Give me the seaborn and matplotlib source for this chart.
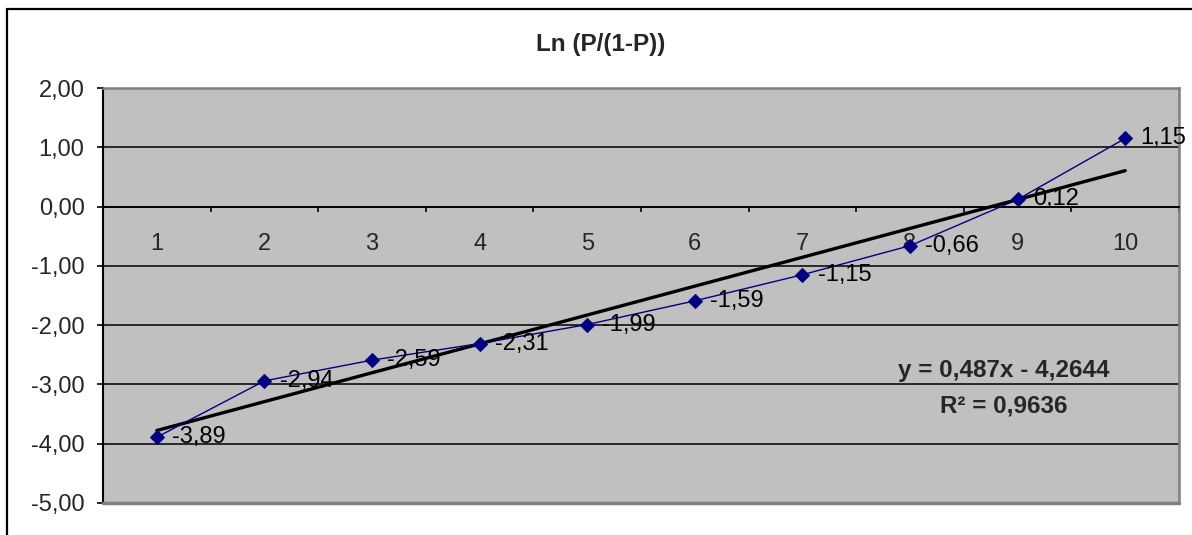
import numpy as np
import pandas as pd
import matplotlib
matplotlib.use("Agg")
import matplotlib.pyplot as plt
from matplotlib.lines import Line2D
from matplotlib.ticker import FuncFormatter
import seaborn as sns

# Logit values per class
categories = [1, 2, 3, 4, 5, 6, 7, 8, 9, 10]
logit_values = [-3.89, -2.94, -2.59, -2.31, -1.99, -1.59, -1.15, -0.66, 0.12, 1.15]

# Linear trend reported on the chart
trend_slope = 0.487
trend_intercept = -4.2644
trend_r2 = 0.9636

title_text = "Ln (P/(1-P))"
y_ticks = [-5, -4, -3, -2, -1, 0, 1, 2]

sns.set_style("white")
plt.rcParams["font.family"] = ["Liberation Sans", "DejaVu Sans"]

W, H = 1192, 535
fig = plt.figure(figsize=(W / 100, H / 100), dpi=100)
fig.patch.set_facecolor("white")

def fx(px):
    return px / W

def fy(py):
    return 1 - py / H

# Chart-area frame (top and left edges)
fig.add_artist(Line2D([fx(7), fx(7)], [fy(9), fy(H + 5)], color="black", lw=1.6))
fig.add_artist(Line2D([fx(7), fx(W + 5)], [fy(9), fy(9)], color="black", lw=1.6))

ax = fig.add_axes([fx(103), fy(503), fx(1179) - fx(103), (503 - 88) / H])
ax.set_facecolor("#c0c0c0")

df = pd.DataFrame({"x": categories, "y": logit_values})
df["trend"] = trend_slope * df["x"] + trend_intercept

sns.lineplot(data=df, x="x", y="trend", ax=ax, color="black", lw=2.4, zorder=3)
sns.lineplot(data=df, x="x", y="y", ax=ax, color="#000080", lw=1.0,
             marker="D", markersize=7.6, markeredgecolor="#000080",
             markerfacecolor="#000080", zorder=4)

for xv, yv in zip(categories, logit_values):
    ax.annotate(f"{yv:.2f}".replace(".", ","), (xv, yv), xytext=(11, 0),
                textcoords="offset points", ha="left", va="center",
                fontsize=17, color="black", annotation_clip=False, zorder=5)

ax.set_xlim(0.5, 10.5)
ax.set_ylim(-5, 2)
ax.set_xlabel("")
ax.set_ylabel("")

# y axis
ax.set_yticks(y_ticks)
ax.yaxis.set_major_formatter(FuncFormatter(lambda v, _: f"{v:.2f}".replace(".", ",")))
ax.tick_params(axis="y", which="major", direction="out", length=4.3, width=1.2,
               color="black", pad=9, labelsize=17, left=True)
ax.yaxis.grid(True, color="black", lw=1.1)
ax.xaxis.grid(False)
ax.set_axisbelow(True)

# x axis sits on y = 0 with category labels beneath it
ax.spines["bottom"].set_position(("data", 0))
ax.spines["bottom"].set_color("black")
ax.spines["bottom"].set_linewidth(1.3)
ax.set_xticks(categories)
ax.set_xticklabels([str(c) for c in categories])
ax.set_xticks(np.arange(1.5, 11, 1.0), minor=True)
ax.tick_params(axis="x", which="major", length=0, pad=19, labelsize=17, bottom=True)
ax.tick_params(axis="x", which="minor", direction="out", length=3.6, width=1.2,
               color="black", bottom=True)

ax.spines["left"].set_color("black")
ax.spines["left"].set_linewidth(1.5)
for side in ("top", "right"):
    ax.spines[side].set_visible(True)
    ax.spines[side].set_color("#808080")
    ax.spines[side].set_linewidth(1.8)
ax.axhline(-5, color="#808080", lw=2.5, zorder=2.6, clip_on=False)

fig.text(fx(601), fy(45), title_text, ha="center", va="center",
         fontsize=17.5, fontweight="bold")
fig.text(fx(1004), fy(370), f"y = {trend_slope:.3f}x - {abs(trend_intercept):.4f}".replace(".", ","),
         ha="center", va="center", fontsize=17.5, fontweight="bold")
fig.text(fx(1004), fy(406), f"R² = {trend_r2:.4f}".replace(".", ","),
         ha="center", va="center", fontsize=17.5, fontweight="bold")

fig.savefig("out.png", dpi=100)
